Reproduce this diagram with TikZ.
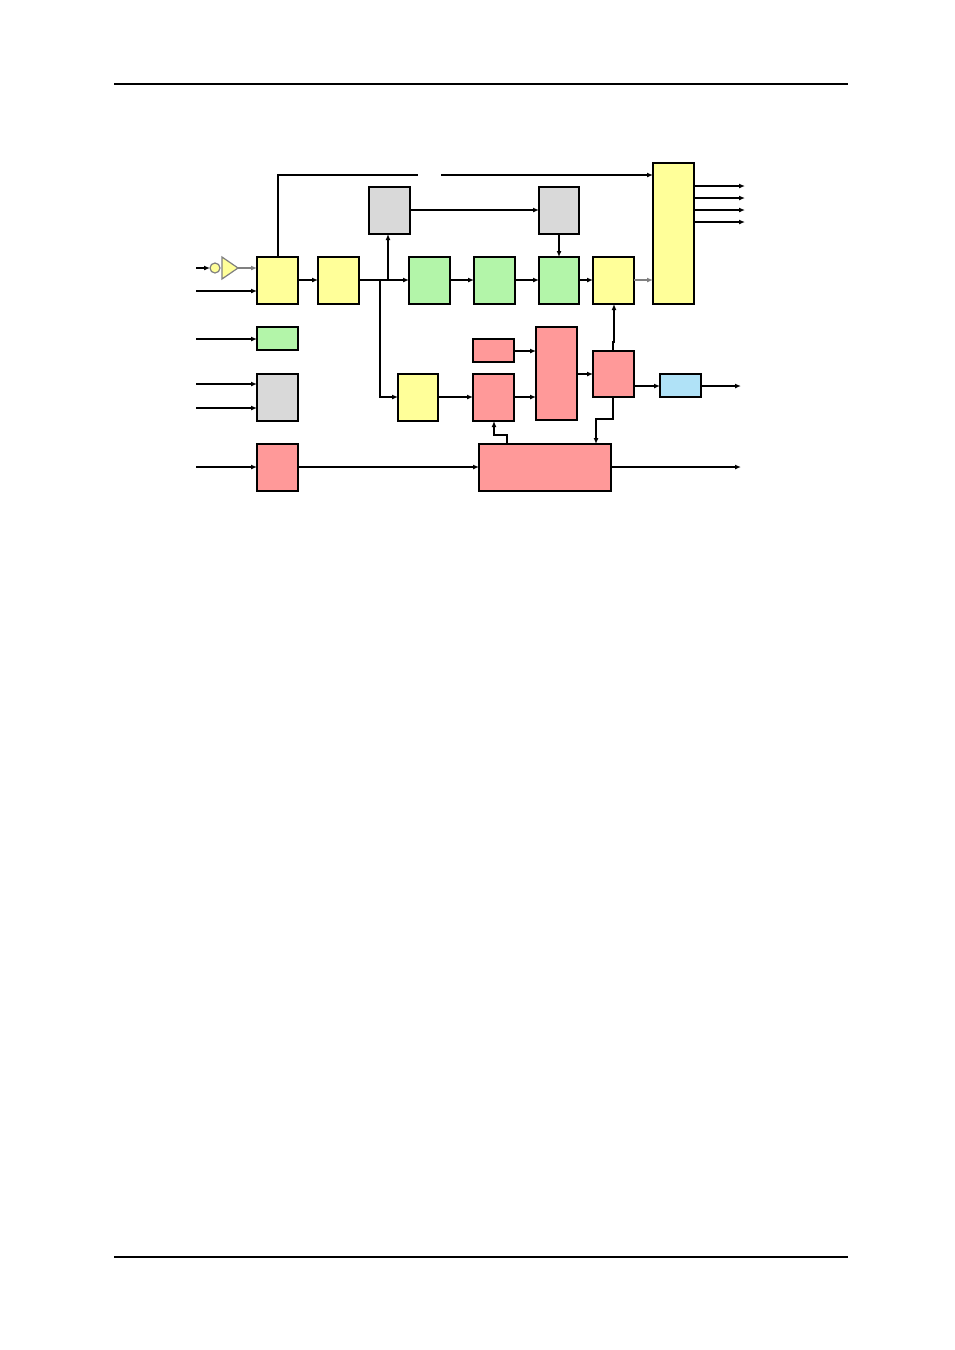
\documentclass[tikz,border=0pt]{standalone}
\usetikzlibrary{arrows.meta}
\definecolor{pyel}{HTML}{FFFF99}
\definecolor{pgrn}{HTML}{B3F5A9}
\definecolor{pgry}{HTML}{D9D9D9}
\definecolor{pred}{HTML}{FF9999}
\definecolor{pblu}{HTML}{B0E2F7}
\begin{document}
\begin{tikzpicture}[
    x=0.5pt, y=-0.5pt,
    line width=0.6pt,
    >={Latex[length=3pt,width=2.5pt]},
    blk/.style={draw, line width=0.6pt},
    flow/.style={->}
]
\useasboundingbox (0,0) rectangle (954,1350);
% page rules
\draw[line width=1pt] (114,84) -- (848,84);
\draw[line width=1pt] (114,1257) -- (848,1257);

% blocks
\draw[blk, fill=pyel] (257,257) rectangle (298,304) coordinate (a1);
\draw[blk, fill=pyel] (318,257) rectangle (359,304);
\draw[blk, fill=pgry] (369,187) rectangle (410,234);
\draw[blk, fill=pgry] (539,187) rectangle (579,234);
\draw[blk, fill=pgrn] (409,257) rectangle (450,304);
\draw[blk, fill=pgrn] (474,257) rectangle (515,304);
\draw[blk, fill=pgrn] (539,257) rectangle (579,304);
\draw[blk, fill=pyel] (593,257) rectangle (634,304);
\draw[blk, fill=pyel] (653,163) rectangle (694,304);
\draw[blk, fill=pgrn] (257,327) rectangle (298,350);
\draw[blk, fill=pgry] (257,374) rectangle (298,421);
\draw[blk, fill=pred] (257,444) rectangle (298,491);
\draw[blk, fill=pyel] (398,374) rectangle (438,421);
\draw[blk, fill=pred] (473,339) rectangle (514,362);
\draw[blk, fill=pred] (473,374) rectangle (514,421);
\draw[blk, fill=pred] (536,327) rectangle (577,420);
\draw[blk, fill=pred] (593,351) rectangle (634,397);
\draw[blk, fill=pblu] (660,374) rectangle (701,397);
\draw[blk, fill=pred] (479,444) rectangle (611,491);

% input stage
\draw[flow] (196,268) -- (210,268);
\draw[draw=gray, fill=pyel] (215,268) circle (5);
\draw[draw=gray, fill=pyel] (222,257) -- (238,268) -- (222,279) -- cycle;
\draw[flow, gray] (238,268) -- (257,268);
\draw[flow] (196,291) -- (257,291);
\draw[flow] (196,339) -- (257,339);
\draw[flow] (196,384) -- (257,384);
\draw[flow] (196,408) -- (257,408);
\draw[flow] (196,467) -- (257,467);

% top bus
\draw (278,257) -- (278,175) -- (418,175);
\draw[flow] (441,175) -- (653,175);
\foreach \y in {186,198,210,222}
  \draw[flow] (694,\y) -- (745,\y);

% main chain
\draw[flow] (298,280) -- (318,280);
\draw[flow] (359,280) -- (409,280);
\draw[flow] (388,280) -- (388,234);
\draw[flow] (380,280) -- (380,397) -- (398,397);
\draw[flow] (410,210) -- (539,210);
\draw[flow] (559,234) -- (559,257);
\draw[flow] (450,280) -- (474,280);
\draw[flow] (515,280) -- (539,280);
\draw[flow] (579,280) -- (593,280);
\draw[flow, gray] (634,280) -- (653,280);

% lower chain
\draw[flow] (438,397) -- (473,397);
\draw[flow] (514,351) -- (536,351);
\draw[flow] (514,397) -- (536,397);
\draw[flow] (577,374) -- (593,374);
\draw[flow] (613,351) -- (613,342) -- (614,342) -- (614,304);
\draw[flow] (634,386) -- (660,386);
\draw[flow] (701,386) -- (741,386);
\draw[flow] (613,397) -- (613,419) -- (596,419) -- (596,444);
\draw[flow] (507,444) -- (507,435) -- (494,435) -- (494,421);
\draw[flow] (298,467) -- (479,467);
\draw[flow] (611,467) -- (741,467);
\end{tikzpicture}
\end{document}
